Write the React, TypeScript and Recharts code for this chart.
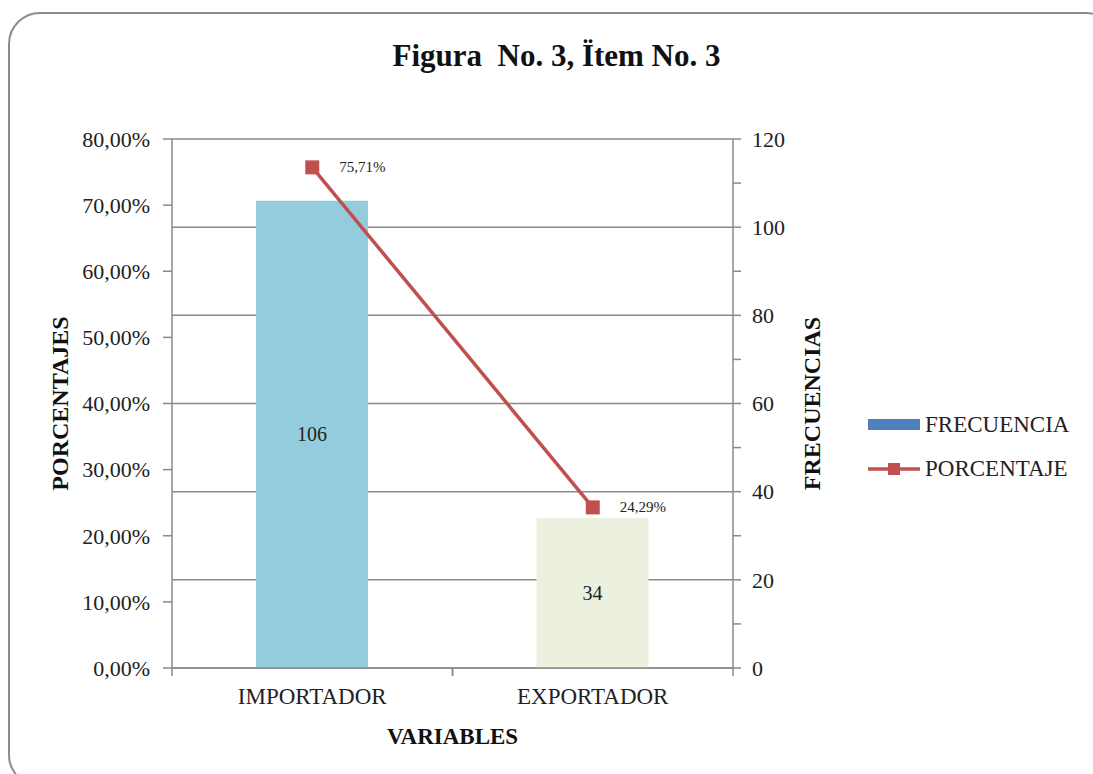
import React from 'react';
import {
  ComposedChart,
  Bar,
  Line,
  XAxis,
  YAxis,
  CartesianGrid,
  Cell,
  LabelList,
} from 'recharts';

// Categories and series
const categories = ['IMPORTADOR', 'EXPORTADOR'];
const frecuencias = [106, 34];
const porcentajes = [75.71, 24.29];
const barColors = ['#93CDDD', '#EBF1DE'];

// Axis ticks
const pctTicks = [0, 10, 20, 30, 40, 50, 60, 70, 80];
const freqTicks = [0, 10, 20, 30, 40, 50, 60, 70, 80, 90, 100, 110, 120];
const freqGrid = [0, 20, 40, 60, 80, 100, 120];

const data = categories.map((c, i) => ({
  name: c,
  freq: frecuencias[i],
  pct: porcentajes[i],
}));

const FONT = '"Liberation Serif", "Times New Roman", serif';
const AXIS = '#8a8a8a';
const RED = '#C0504D';

const fmtPct = (v: number) => v.toFixed(2).replace('.', ',') + '%';

const SquareDot = (props: any) => {
  const { cx, cy } = props;
  if (cx == null || cy == null) return null;
  return <rect x={cx - 7} y={cy - 7} width={14} height={14} fill={RED} />;
};

const PctLabel = (props: any) => {
  const { x, y, value } = props;
  return (
    <text x={x + 27} y={y + 5} fontFamily={FONT} fontSize={15} fill="#222">
      {fmtPct(value)}
    </text>
  );
};

// Category tick: label centred in the band, tick marks on the band edges
const CategoryTick = (props: any) => {
  const { x, y, payload } = props;
  const half = payload && payload.offset ? payload.offset : 0;
  return (
    <g>
      <line x1={x - half} y1={y} x2={x - half} y2={y + 8} stroke={AXIS} strokeWidth={1.5} />
      <line x1={x + half} y1={y} x2={x + half} y2={y + 8} stroke={AXIS} strokeWidth={1.5} />
      <text x={x} y={y + 36} textAnchor="middle" fontFamily={FONT} fontSize={23} fill="#222">
        {payload.value}
      </text>
    </g>
  );
};

const LeftTitle = (props: any) => {
  const vb = props.viewBox || {};
  const cx = 60;
  const cy = vb.y + vb.height / 2;
  return (
    <text
      x={cx}
      y={cy}
      transform={`rotate(-90 ${cx} ${cy})`}
      textAnchor="middle"
      dominantBaseline="central"
      fontFamily={FONT}
      fontWeight="bold"
      fontSize={24}
      fill="#111"
    >
      PORCENTAJES
    </text>
  );
};

const RightTitle = (props: any) => {
  const vb = props.viewBox || {};
  const cx = vb.x + 79;
  const cy = vb.y + vb.height / 2;
  return (
    <text
      x={cx}
      y={cy}
      transform={`rotate(-90 ${cx} ${cy})`}
      textAnchor="middle"
      dominantBaseline="central"
      fontFamily={FONT}
      fontWeight="bold"
      fontSize={24}
      fill="#111"
    >
      FRECUENCIAS
    </text>
  );
};

const BottomTitle = (props: any) => {
  const vb = props.viewBox || {};
  return (
    <text
      x={vb.x + vb.width / 2}
      y={vb.y + 76}
      textAnchor="middle"
      fontFamily={FONT}
      fontWeight="bold"
      fontSize={23}
      fill="#111"
    >
      VARIABLES
    </text>
  );
};

export default function App() {
  return (
    <div
      style={{
        position: 'fixed',
        left: 0,
        top: 0,
        width: 1093,
        height: 774,
        overflow: 'hidden',
        background: '#fff',
      }}
    >
      <div
        style={{
          position: 'absolute',
          left: 8,
          top: 12,
          width: 1110,
          height: 775,
          border: '2px solid #8c8c8c',
          borderRadius: 32,
          boxSizing: 'border-box',
        }}
      />
      <div
        style={{
          position: 'absolute',
          left: 0,
          width: 1093,
          top: 38,
          textAlign: 'center',
          fontFamily: FONT,
          fontWeight: 'bold',
          fontSize: 31,
          color: '#111',
          whiteSpace: 'pre',
          paddingLeft: 10,
        }}
      >
        {'Figura  No. 3, Ïtem No. 3'}
      </div>

      <div style={{ position: 'absolute', left: 0, top: 0 }}>
        <ComposedChart
          width={1093}
          height={774}
          data={data}
          margin={{ top: 139, right: 0, bottom: 26, left: 0 }}
        >
          <CartesianGrid
            yAxisId="right"
            vertical={false}
            horizontalValues={freqGrid}
            stroke={AXIS}
            strokeWidth={1.5}
          />
          <XAxis
            xAxisId="cat"
            dataKey="name"
            height={80}
            axisLine={{ stroke: AXIS, strokeWidth: 1.5 }}
            tickLine={false}
            tickSize={0}
            tickMargin={0}
            interval={0}
            tick={<CategoryTick />}
            label={<BottomTitle />}
          />
          <YAxis
            yAxisId="left"
            orientation="left"
            width={172}
            domain={[0, 80]}
            ticks={pctTicks}
            interval={0}
            tickFormatter={(v: number) => fmtPct(v)}
            axisLine={{ stroke: AXIS, strokeWidth: 1.5 }}
            tickLine={{ stroke: AXIS, strokeWidth: 1.5 }}
            tickSize={9}
            tickMargin={13}
            tick={{ fontFamily: FONT, fontSize: 22, fill: '#222' }}
            label={<LeftTitle />}
          />
          <YAxis
            yAxisId="right"
            orientation="right"
            width={360}
            domain={[0, 120]}
            ticks={freqTicks}
            interval={0}
            tickFormatter={(v: number) => (v % 20 === 0 ? String(v) : '')}
            axisLine={{ stroke: AXIS, strokeWidth: 1.5 }}
            tickLine={{ stroke: AXIS, strokeWidth: 1.5 }}
            tickSize={8}
            tickMargin={11}
            tick={{ fontFamily: FONT, fontSize: 22, fill: '#222' }}
            label={<RightTitle />}
          />
          <Bar
            xAxisId="cat"
            yAxisId="right"
            dataKey="freq"
            barSize={112}
            isAnimationActive={false}
          >
            {data.map((d, i) => (
              <Cell key={d.name} fill={barColors[i]} />
            ))}
            <LabelList
              dataKey="freq"
              position="center"
              style={{ fontFamily: FONT, fontSize: 20, fill: '#222' }}
            />
          </Bar>
          <Line
            xAxisId="cat"
            yAxisId="left"
            dataKey="pct"
            stroke={RED}
            strokeWidth={3.5}
            dot={<SquareDot />}
            activeDot={false}
            isAnimationActive={false}
          >
            <LabelList dataKey="pct" content={<PctLabel />} />
          </Line>
        </ComposedChart>
      </div>

      {/* legend */}
      <div
        style={{
          position: 'absolute',
          left: 868,
          top: 410,
          fontFamily: FONT,
          fontSize: 23,
          color: '#222',
        }}
      >
        <div style={{ display: 'flex', alignItems: 'center', height: 30 }}>
          <svg width={56} height={30}>
            <rect x={0} y={9} width={52} height={11} fill="#4F81BD" />
          </svg>
          <span style={{ marginLeft: 1 }}>FRECUENCIA</span>
        </div>
        <div style={{ display: 'flex', alignItems: 'center', height: 30, marginTop: 14 }}>
          <svg width={56} height={30}>
            <line x1={0} y1={15} x2={52} y2={15} stroke={RED} strokeWidth={3.5} />
            <rect x={20} y={9} width={12} height={12} fill={RED} />
          </svg>
          <span style={{ marginLeft: 1 }}>PORCENTAJE</span>
        </div>
      </div>
    </div>
  );
}
